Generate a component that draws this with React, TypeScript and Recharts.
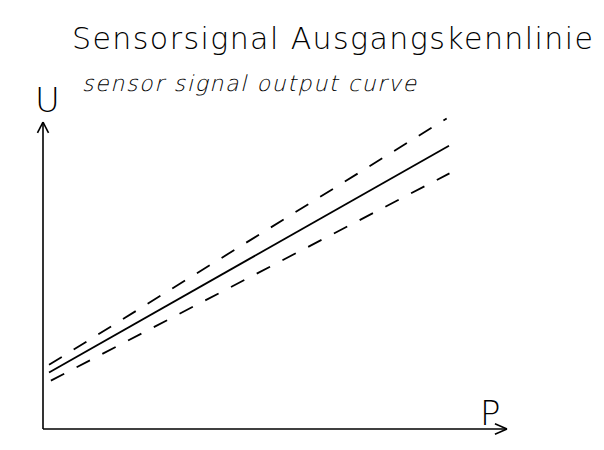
import React from 'react';
import { LineChart, Line, XAxis, YAxis, ReferenceLine } from 'recharts';

// Characteristic output curves (pressure p in %, signal U in %)
const nominalCurve = [
  { p: 1.3, u: 17.2 },
  { p: 87.5, u: 86.1 },
];
const upperTolerance = [
  { p: 1.3, u: 19.5 },
  { p: 87.0, u: 94.4 },
];
const lowerTolerance = [
  { p: 1.7, u: 14.7 },
  { p: 87.6, u: 77.7 },
];

const titleText = 'Sensorsignal Ausgangskennlinie';
const subtitleText = 'sensor signal output curve';
const xLabel = 'P';
const yLabel = 'U';

const yAxisTop = 93.3;
const xAxisEnd = 100;
const yArrowHead = [
  { x1: -1.19, y1: 90.0, x2: 0, y2: yAxisTop },
  { x1: 1.19, y1: 90.0, x2: 0, y2: yAxisTop },
];
const xArrowHead = [
  { x1: 97.4, y1: 1.6, x2: xAxisEnd, y2: 0 },
  { x1: 97.4, y1: -1.6, x2: xAxisEnd, y2: 0 },
];

const W = 604;
const H = 450;
const FONT = '"DejaVu Sans", sans-serif';

export default function App() {
  return (
    <div style={{ position: 'absolute', left: 0, top: 0, width: W, height: H, background: '#fff' }}>
      <LineChart
        width={W}
        height={H}
        margin={{ top: 100, left: 43, right: 97, bottom: 21 }}
      >
        <XAxis
          type="number"
          dataKey="p"
          domain={[0, 100]}
          allowDataOverflow
          hide
        />
        <YAxis
          type="number"
          dataKey="u"
          domain={[0, 100]}
          allowDataOverflow
          hide
        />
        <ReferenceLine
          segment={[{ x: 0, y: 0 }, { x: 0, y: yAxisTop }]}
          stroke="#000"
          strokeWidth={1.6}
          ifOverflow="visible"
        />
        <ReferenceLine
          segment={[{ x: 0, y: 0 }, { x: xAxisEnd, y: 0 }]}
          stroke="#000"
          strokeWidth={1.6}
          ifOverflow="visible"
        />
        {yArrowHead.map((s, i) => (
          <ReferenceLine
            key={'ya' + i}
            segment={[{ x: s.x1, y: s.y1 }, { x: s.x2, y: s.y2 }]}
            stroke="#000"
            strokeWidth={1.6}
            ifOverflow="visible"
          />
        ))}
        {xArrowHead.map((s, i) => (
          <ReferenceLine
            key={'xa' + i}
            segment={[{ x: s.x1, y: s.y1 }, { x: s.x2, y: s.y2 }]}
            stroke="#000"
            strokeWidth={1.6}
            ifOverflow="visible"
          />
        ))}
        <Line
          data={upperTolerance}
          dataKey="u"
          stroke="#000"
          strokeWidth={1.8}
          strokeDasharray="15 14"
          dot={false}
          activeDot={false}
          isAnimationActive={false}
        />
        <Line
          data={nominalCurve}
          dataKey="u"
          stroke="#000"
          strokeWidth={1.8}
          dot={false}
          activeDot={false}
          isAnimationActive={false}
        />
        <Line
          data={lowerTolerance}
          dataKey="u"
          stroke="#000"
          strokeWidth={1.8}
          strokeDasharray="15 14"
          dot={false}
          activeDot={false}
          isAnimationActive={false}
        />
      </LineChart>
      <svg
        width={W}
        height={H}
        style={{ position: 'absolute', left: 0, top: 0, pointerEvents: 'none' }}
      >
        <text
          x={72}
          y={49}
          fontFamily={FONT}
          fontWeight={200}
          fontSize={30}
          textLength={521}
          lengthAdjust="spacing"
          fill="#000"
        >
          {titleText}
        </text>
        <g transform="translate(82,91) skewX(-14)">
          <text
            x={0}
            y={0}
            fontFamily={FONT}
            fontWeight={200}
            fontSize={22}
            textLength={334}
            lengthAdjust="spacing"
            fill="#000"
          >
            {subtitleText}
          </text>
        </g>
        <text
          x={35}
          y={112}
          fontFamily={FONT}
          fontWeight={200}
          fontSize={34}
          fill="#000"
        >
          {yLabel}
        </text>
        <text
          x={480}
          y={425}
          fontFamily={FONT}
          fontWeight={200}
          fontSize={34}
          fill="#000"
        >
          {xLabel}
        </text>
      </svg>
    </div>
  );
}
